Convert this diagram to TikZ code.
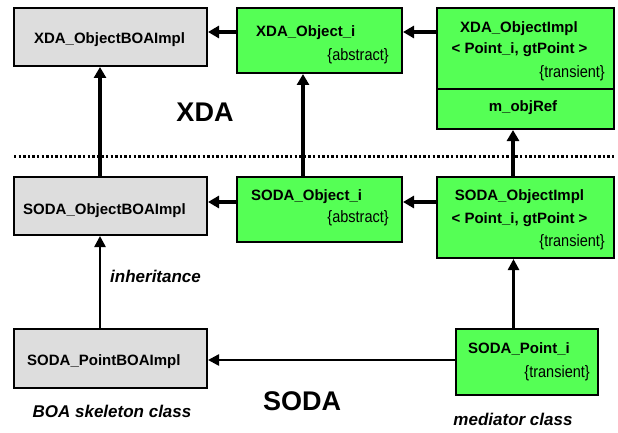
\documentclass[tikz,border=0pt]{standalone}
\usepackage{fontspec}
\setmainfont{Liberation Sans}
\newfontfamily\narrowfont[FakeStretch=0.88]{Liberation Sans}
\usetikzlibrary{arrows.meta}
\definecolor{boxgreen}{RGB}{85,255,85}
\definecolor{boxgray}{RGB}{221,221,221}
\tikzset{
  umlbox/.style={draw=black, line width=2pt, rectangle, inner sep=0pt},
  graybox/.style={umlbox, fill=boxgray},
  greenbox/.style={umlbox, fill=boxgreen},
  clsname/.style={font=\fontsize{15}{17}\selectfont\bfseries, inner sep=0pt},
  clsprop/.style={font=\narrowfont\fontsize{16.5}{18}\selectfont, inner sep=0pt},
  bigtxt/.style={font=\fontsize{27}{30}\selectfont\bfseries, inner sep=0pt},
  notetxt/.style={font=\fontsize{17}{19}\selectfont\bfseries\itshape, inner sep=0pt},
  arr/.style={line width=3.2pt, -{Triangle[length=11pt,width=12pt]}},
  arrthin/.style={line width=2.5pt, -{Triangle[length=11pt,width=11pt]}},
}
\begin{document}
\begin{tikzpicture}[x=1pt,y=1pt]
\useasboundingbox (0,0) rectangle (618,432);
% boxes (pixel y measured from top: y_tikz = 432 - y)
\node[graybox, minimum width=193pt, minimum height=58pt] (b1) at (110.5,395) {};
\node[greenbox, minimum width=165pt, minimum height=65pt] (b2) at (319.5,391.5) {};
\node[greenbox, minimum width=177pt, minimum height=81pt] (b3) at (525.5,383.5) {};
\node[greenbox, minimum width=177pt, minimum height=40pt] (b3b) at (525.5,323) {};
\node[graybox, minimum width=193pt, minimum height=58pt] (b4) at (110.5,226) {};
\node[greenbox, minimum width=165pt, minimum height=65pt] (b5) at (319.5,222.5) {};
\node[greenbox, minimum width=177pt, minimum height=81pt] (b6) at (525.5,214.5) {};
\node[graybox, minimum width=193pt, minimum height=59pt] (b7) at (110.5,73.5) {};
\node[greenbox, minimum width=142pt, minimum height=66pt] (b8) at (527,70) {};
% box texts
\node[clsname, anchor=base] (t1) at (109.5,388) {XDA\_ObjectBOAImpl};
\node[clsname, anchor=base west] (t2) at (256,395) {XDA\_Object\_i};
\node[clsprop, anchor=base east] (t2p) at (389,371) {\{abstract\}};
\node[clsname, anchor=base] (t3) at (519,399) {XDA\_ObjectImpl};
\node[clsname, anchor=base] (t3b) at (519.5,378) {< Point\_i, gtPoint >};
\node[clsprop, anchor=base east] (t3p) at (605,354) {\{transient\}};
\node[clsname, anchor=base] (t3c) at (523,320) {m\_objRef};
\node[clsname, anchor=base west] (t4) at (23,218) {SODA\_ObjectBOAImpl};
\node[clsname, anchor=base west] (t5) at (251,232) {SODA\_Object\_i};
\node[clsprop, anchor=base east] (t5p) at (389,210) {\{abstract\}};
\node[clsname, anchor=base] (t6) at (519.5,232) {SODA\_ObjectImpl};
\node[clsname, anchor=base] (t6b) at (519.5,209) {< Point\_i, gtPoint >};
\node[clsprop, anchor=base east] (t6p) at (605,186) {\{transient\}};
\node[clsname, anchor=base west] (t7) at (27,67) {SODA\_PointBOAImpl};
\node[clsname, anchor=base west] (t8) at (468,79) {SODA\_Point\_i};
\node[clsprop, anchor=base east] (t8p) at (590,55) {\{transient\}};
% labels
\node[bigtxt] (xda) at (205,320) {XDA};
\node[bigtxt] (soda) at (302,31) {SODA};
\node[notetxt, anchor=base west] (inh) at (110,150) {inheritance};
\node[notetxt, anchor=base] (boa) at (112,15) {BOA skeleton class};
\node[notetxt, anchor=base] (med) at (513,7) {mediator class};
% dotted separator
\coordinate (dl) at (14,276);
\coordinate (dr) at (614,276);
\draw[line width=3pt, dash pattern=on 2.4pt off 2.2pt] (dl) -- (dr);
% connectors
\draw[arr] ([yshift=8.5pt]b2.west) -- ([yshift=8.5pt]b2.west -| b1.east);
\draw[arr] ([yshift=16.5pt]b3.west) -- ([yshift=16.5pt]b3.west -| b2.east);
\draw[arr] ([xshift=-10.5pt]b4.north) -- ([xshift=-10.5pt]b1.south);
\draw[arr] ([xshift=-16.5pt]b5.north) -- ([xshift=-16.5pt]b2.south);
\draw[arr] ([xshift=-12.5pt]b6.north) -- ([xshift=-12.5pt]b3b.south);
\draw[arr] ([yshift=7.5pt]b5.west) -- ([yshift=7.5pt]b5.west -| b4.east);
\draw[arr] ([yshift=15.5pt]b6.west) -- ([yshift=15.5pt]b6.west -| b5.east);
\draw[arrthin] ([xshift=-10.5pt]b7.north) -- ([xshift=-10.5pt]b4.south);
\draw[arrthin] ([xshift=-12pt]b6.south |- b8.north) -- ([xshift=-12pt]b6.south);
\draw[arrthin] ([yshift=2pt]b8.west) -- ([yshift=2pt]b8.west -| b7.east);
\end{tikzpicture}
\end{document}
